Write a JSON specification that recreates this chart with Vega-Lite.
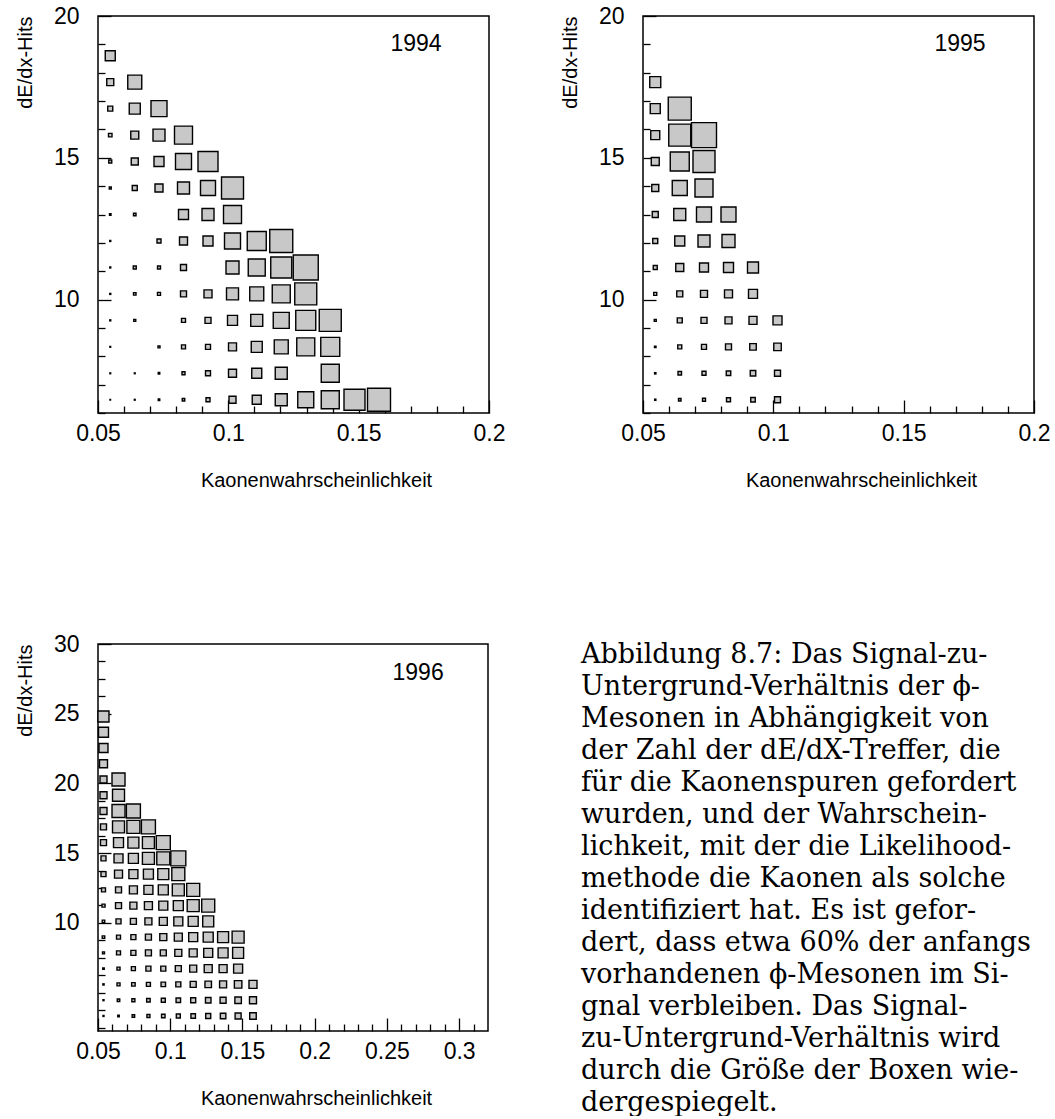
{
  "$schema": "https://vega.github.io/schema/vega-lite/v6.json",
  "background": "white",
  "padding": {"left": 14, "top": 4, "right": 0, "bottom": 0},
  "autosize": {"type": "pad"},
  "config": {
    "view": {"stroke": "black", "strokeWidth": 1.5},
    "axis": {"labelFont": "Liberation Sans", "titleFont": "Liberation Sans", "labelColor": "black", "titleColor": "black", "tickColor": "black", "tickWidth": 1.3, "grid": false, "domain": false, "labelFontSize": 23, "titleFontSize": 20, "titleFontWeight": "normal", "labelOverlap": false}
  },
  "datasets": {
    "d94": [
      {"x":0.0547,"y":18.6,"v":1.0},
      {"x":0.0547,"y":17.667,"v":0.7},{"x":0.0641,"y":17.667,"v":1.4},
      {"x":0.0547,"y":16.733,"v":0.5},{"x":0.0641,"y":16.733,"v":1.1},{"x":0.0734,"y":16.733,"v":1.6},
      {"x":0.0547,"y":15.8,"v":0.35},{"x":0.0641,"y":15.8,"v":0.8},{"x":0.0734,"y":15.8,"v":1.2},{"x":0.0828,"y":15.8,"v":1.8},
      {"x":0.0547,"y":14.867,"v":0.3},{"x":0.0641,"y":14.867,"v":0.7},{"x":0.0734,"y":14.867,"v":1.0},{"x":0.0828,"y":14.867,"v":1.6},{"x":0.0922,"y":14.867,"v":2.0},
      {"x":0.0547,"y":13.933,"v":0.2},{"x":0.0641,"y":13.933,"v":0.5},{"x":0.0734,"y":13.933,"v":0.8},{"x":0.0828,"y":13.933,"v":1.2},{"x":0.0922,"y":13.933,"v":1.5},{"x":0.1016,"y":13.933,"v":2.2},
      {"x":0.0547,"y":13.0,"v":0.15},{"x":0.0641,"y":13.0,"v":0.25},{"x":0.0828,"y":13.0,"v":1.0},{"x":0.0922,"y":13.0,"v":1.2},{"x":0.1016,"y":13.0,"v":1.8},
      {"x":0.0547,"y":12.067,"v":0.1},{"x":0.0734,"y":12.067,"v":0.4},{"x":0.0828,"y":12.067,"v":0.8},{"x":0.0922,"y":12.067,"v":1.0},{"x":0.1016,"y":12.067,"v":1.6},{"x":0.1109,"y":12.067,"v":1.9},{"x":0.1203,"y":12.067,"v":2.3},
      {"x":0.0547,"y":11.133,"v":0.1},{"x":0.0641,"y":11.133,"v":0.3},{"x":0.0734,"y":11.133,"v":0.3},{"x":0.0828,"y":11.133,"v":0.6},{"x":0.1016,"y":11.133,"v":1.3},{"x":0.1109,"y":11.133,"v":1.7},{"x":0.1203,"y":11.133,"v":2.1},{"x":0.1297,"y":11.133,"v":2.5},
      {"x":0.0547,"y":10.2,"v":0.1},{"x":0.0641,"y":10.2,"v":0.25},{"x":0.0734,"y":10.2,"v":0.3},{"x":0.0828,"y":10.2,"v":0.6},{"x":0.0922,"y":10.2,"v":0.8},{"x":0.1016,"y":10.2,"v":1.2},{"x":0.1109,"y":10.2,"v":1.4},{"x":0.1203,"y":10.2,"v":1.8},{"x":0.1297,"y":10.2,"v":2.2},
      {"x":0.0547,"y":9.267,"v":0.1},{"x":0.0641,"y":9.267,"v":0.2},{"x":0.0828,"y":9.267,"v":0.4},{"x":0.0922,"y":9.267,"v":0.6},{"x":0.1016,"y":9.267,"v":1.0},{"x":0.1109,"y":9.267,"v":1.2},{"x":0.1203,"y":9.267,"v":1.6},{"x":0.1297,"y":9.267,"v":2.0},{"x":0.1391,"y":9.267,"v":2.2},
      {"x":0.0547,"y":8.333,"v":0.08},{"x":0.0734,"y":8.333,"v":0.2},{"x":0.0828,"y":8.333,"v":0.4},{"x":0.0922,"y":8.333,"v":0.5},{"x":0.1016,"y":8.333,"v":0.8},{"x":0.1109,"y":8.333,"v":1.1},{"x":0.1203,"y":8.333,"v":1.4},{"x":0.1297,"y":8.333,"v":1.8},{"x":0.1391,"y":8.333,"v":1.9},
      {"x":0.0547,"y":7.4,"v":0.08},{"x":0.0641,"y":7.4,"v":0.08},{"x":0.0734,"y":7.4,"v":0.15},{"x":0.0828,"y":7.4,"v":0.3},{"x":0.0922,"y":7.4,"v":0.5},{"x":0.1016,"y":7.4,"v":0.8},{"x":0.1109,"y":7.4,"v":1.0},{"x":0.1203,"y":7.4,"v":1.2},{"x":0.1391,"y":7.4,"v":1.8},
      {"x":0.0547,"y":6.467,"v":0.06},{"x":0.0641,"y":6.467,"v":0.08},{"x":0.0734,"y":6.467,"v":0.15},{"x":0.0828,"y":6.467,"v":0.25},{"x":0.0922,"y":6.467,"v":0.4},{"x":0.1016,"y":6.467,"v":0.7},{"x":0.1109,"y":6.467,"v":0.9},{"x":0.1203,"y":6.467,"v":1.2},{"x":0.1297,"y":6.467,"v":1.6},{"x":0.1391,"y":6.467,"v":1.8},{"x":0.1484,"y":6.467,"v":2.1},{"x":0.1578,"y":6.467,"v":2.3}
    ],
    "d95": [
      {"x":0.0547,"y":17.667,"v":1.1},
      {"x":0.0547,"y":16.733,"v":1.0},{"x":0.0641,"y":16.733,"v":2.3},
      {"x":0.0547,"y":15.8,"v":0.9},{"x":0.0641,"y":15.8,"v":2.2},{"x":0.0734,"y":15.8,"v":2.5},
      {"x":0.0547,"y":14.867,"v":0.8},{"x":0.0641,"y":14.867,"v":1.9},{"x":0.0734,"y":14.867,"v":2.2},
      {"x":0.0547,"y":13.933,"v":0.7},{"x":0.0641,"y":13.933,"v":1.5},{"x":0.0734,"y":13.933,"v":1.8},
      {"x":0.0547,"y":13.0,"v":0.6},{"x":0.0641,"y":13.0,"v":1.2},{"x":0.0734,"y":13.0,"v":1.5},{"x":0.0828,"y":13.0,"v":1.5},
      {"x":0.0547,"y":12.067,"v":0.5},{"x":0.0641,"y":12.067,"v":1.0},{"x":0.0734,"y":12.067,"v":1.2},{"x":0.0828,"y":12.067,"v":1.3},
      {"x":0.0547,"y":11.133,"v":0.4},{"x":0.0641,"y":11.133,"v":0.8},{"x":0.0734,"y":11.133,"v":0.9},{"x":0.0828,"y":11.133,"v":1.0},{"x":0.0922,"y":11.133,"v":1.1},
      {"x":0.0547,"y":10.2,"v":0.3},{"x":0.0641,"y":10.2,"v":0.6},{"x":0.0734,"y":10.2,"v":0.7},{"x":0.0828,"y":10.2,"v":0.8},{"x":0.0922,"y":10.2,"v":0.9},
      {"x":0.0547,"y":9.267,"v":0.2},{"x":0.0641,"y":9.267,"v":0.5},{"x":0.0734,"y":9.267,"v":0.6},{"x":0.0828,"y":9.267,"v":0.7},{"x":0.0922,"y":9.267,"v":0.8},{"x":0.1016,"y":9.267,"v":0.9},
      {"x":0.0547,"y":8.333,"v":0.15},{"x":0.0641,"y":8.333,"v":0.4},{"x":0.0734,"y":8.333,"v":0.5},{"x":0.0828,"y":8.333,"v":0.6},{"x":0.0922,"y":8.333,"v":0.65},{"x":0.1016,"y":8.333,"v":0.75},
      {"x":0.0547,"y":7.4,"v":0.13},{"x":0.0641,"y":7.4,"v":0.35},{"x":0.0734,"y":7.4,"v":0.4},{"x":0.0828,"y":7.4,"v":0.45},{"x":0.0922,"y":7.4,"v":0.55},{"x":0.1016,"y":7.4,"v":0.6},
      {"x":0.0547,"y":6.467,"v":0.12},{"x":0.0641,"y":6.467,"v":0.25},{"x":0.0734,"y":6.467,"v":0.3},{"x":0.0828,"y":6.467,"v":0.4},{"x":0.0922,"y":6.467,"v":0.45},{"x":0.1016,"y":6.467,"v":0.6}
    ],
    "d96": [
      {"x":0.0538,"y":24.8,"v":1.1},
      {"x":0.0538,"y":23.67,"v":1.0},
      {"x":0.0538,"y":22.54,"v":0.9},
      {"x":0.0538,"y":21.41,"v":0.8},
      {"x":0.0538,"y":20.28,"v":0.7},{"x":0.0642,"y":20.28,"v":1.3},
      {"x":0.0538,"y":19.15,"v":0.7},{"x":0.0642,"y":19.15,"v":1.2},
      {"x":0.0538,"y":18.02,"v":0.7},{"x":0.0642,"y":18.02,"v":1.3},{"x":0.0745,"y":18.02,"v":1.4},
      {"x":0.0538,"y":16.89,"v":0.6},{"x":0.0642,"y":16.89,"v":1.2},{"x":0.0745,"y":16.89,"v":1.3},{"x":0.0849,"y":16.89,"v":1.4},
      {"x":0.0538,"y":15.76,"v":0.6},{"x":0.0642,"y":15.76,"v":1.0},{"x":0.0745,"y":15.76,"v":1.1},{"x":0.0849,"y":15.76,"v":1.2},{"x":0.0952,"y":15.76,"v":1.4},
      {"x":0.0538,"y":14.63,"v":0.5},{"x":0.0642,"y":14.63,"v":0.9},{"x":0.0745,"y":14.63,"v":1.0},{"x":0.0849,"y":14.63,"v":1.2},{"x":0.0952,"y":14.63,"v":1.3},{"x":0.1056,"y":14.63,"v":1.5},
      {"x":0.0538,"y":13.5,"v":0.5},{"x":0.0642,"y":13.5,"v":0.8},{"x":0.0745,"y":13.5,"v":0.9},{"x":0.0849,"y":13.5,"v":1.0},{"x":0.0952,"y":13.5,"v":1.1},{"x":0.1056,"y":13.5,"v":1.3},
      {"x":0.0538,"y":12.37,"v":0.4},{"x":0.0642,"y":12.37,"v":0.6},{"x":0.0745,"y":12.37,"v":0.8},{"x":0.0849,"y":12.37,"v":0.9},{"x":0.0952,"y":12.37,"v":1.0},{"x":0.1056,"y":12.37,"v":1.2},{"x":0.1159,"y":12.37,"v":1.3},
      {"x":0.0538,"y":11.24,"v":0.3},{"x":0.0642,"y":11.24,"v":0.6},{"x":0.0745,"y":11.24,"v":0.7},{"x":0.0849,"y":11.24,"v":0.8},{"x":0.0952,"y":11.24,"v":0.9},{"x":0.1056,"y":11.24,"v":1.0},{"x":0.1159,"y":11.24,"v":1.2},{"x":0.1263,"y":11.24,"v":1.3},
      {"x":0.0538,"y":10.11,"v":0.25},{"x":0.0642,"y":10.11,"v":0.5},{"x":0.0745,"y":10.11,"v":0.6},{"x":0.0849,"y":10.11,"v":0.7},{"x":0.0952,"y":10.11,"v":0.8},{"x":0.1056,"y":10.11,"v":0.9},{"x":0.1159,"y":10.11,"v":1.0},{"x":0.1263,"y":10.11,"v":1.1},
      {"x":0.0538,"y":8.98,"v":0.25},{"x":0.0642,"y":8.98,"v":0.4},{"x":0.0745,"y":8.98,"v":0.5},{"x":0.0849,"y":8.98,"v":0.6},{"x":0.0952,"y":8.98,"v":0.7},{"x":0.1056,"y":8.98,"v":0.8},{"x":0.1159,"y":8.98,"v":0.9},{"x":0.1263,"y":8.98,"v":1.0},{"x":0.1366,"y":8.98,"v":1.1},{"x":0.147,"y":8.98,"v":1.2},
      {"x":0.0538,"y":7.85,"v":0.2},{"x":0.0642,"y":7.85,"v":0.4},{"x":0.0745,"y":7.85,"v":0.5},{"x":0.0849,"y":7.85,"v":0.6},{"x":0.0952,"y":7.85,"v":0.6},{"x":0.1056,"y":7.85,"v":0.7},{"x":0.1159,"y":7.85,"v":0.8},{"x":0.1263,"y":7.85,"v":0.9},{"x":0.1366,"y":7.85,"v":1.0},{"x":0.147,"y":7.85,"v":1.1},
      {"x":0.0538,"y":6.72,"v":0.15},{"x":0.0642,"y":6.72,"v":0.3},{"x":0.0745,"y":6.72,"v":0.4},{"x":0.0849,"y":6.72,"v":0.5},{"x":0.0952,"y":6.72,"v":0.5},{"x":0.1056,"y":6.72,"v":0.6},{"x":0.1159,"y":6.72,"v":0.7},{"x":0.1263,"y":6.72,"v":0.8},{"x":0.1366,"y":6.72,"v":0.8},{"x":0.147,"y":6.72,"v":0.9},
      {"x":0.0538,"y":5.59,"v":0.12},{"x":0.0642,"y":5.59,"v":0.3},{"x":0.0745,"y":5.59,"v":0.35},{"x":0.0849,"y":5.59,"v":0.4},{"x":0.0952,"y":5.59,"v":0.45},{"x":0.1056,"y":5.59,"v":0.5},{"x":0.1159,"y":5.59,"v":0.6},{"x":0.1263,"y":5.59,"v":0.65},{"x":0.1366,"y":5.59,"v":0.7},{"x":0.147,"y":5.59,"v":0.75},{"x":0.1573,"y":5.59,"v":0.8},
      {"x":0.0538,"y":4.46,"v":0.1},{"x":0.0642,"y":4.46,"v":0.25},{"x":0.0745,"y":4.46,"v":0.3},{"x":0.0849,"y":4.46,"v":0.35},{"x":0.0952,"y":4.46,"v":0.4},{"x":0.1056,"y":4.46,"v":0.45},{"x":0.1159,"y":4.46,"v":0.5},{"x":0.1263,"y":4.46,"v":0.55},{"x":0.1366,"y":4.46,"v":0.6},{"x":0.147,"y":4.46,"v":0.65},{"x":0.1573,"y":4.46,"v":0.7},
      {"x":0.0538,"y":3.33,"v":0.1},{"x":0.0642,"y":3.33,"v":0.15},{"x":0.0745,"y":3.33,"v":0.25},{"x":0.0849,"y":3.33,"v":0.3},{"x":0.0952,"y":3.33,"v":0.35},{"x":0.1056,"y":3.33,"v":0.4},{"x":0.1159,"y":3.33,"v":0.45},{"x":0.1263,"y":3.33,"v":0.5},{"x":0.1366,"y":3.33,"v":0.55},{"x":0.147,"y":3.33,"v":0.6},{"x":0.1573,"y":3.33,"v":0.65}
    ],
    "cap": [
      {"line":1,"text":"Abbildung 8.7: Das Signal-zu-"},
      {"line":2,"text":"Untergrund-Verhältnis der ϕ-"},
      {"line":3,"text":"Mesonen in Abhängigkeit von"},
      {"line":4,"text":"der Zahl der dE/dX-Treffer, die"},
      {"line":5,"text":"für die Kaonenspuren gefordert"},
      {"line":6,"text":"wurden, und der Wahrschein-"},
      {"line":7,"text":"lichkeit, mit der die Likelihood-"},
      {"line":8,"text":"methode die Kaonen als solche"},
      {"line":9,"text":"identifiziert hat. Es ist gefor-"},
      {"line":10,"text":"dert, dass etwa 60% der anfangs"},
      {"line":11,"text":"vorhandenen ϕ-Mesonen im Si-"},
      {"line":12,"text":"gnal verbleiben. Das Signal-"},
      {"line":13,"text":"zu-Untergrund-Verhältnis wird"},
      {"line":14,"text":"durch die Größe der Boxen wie-"},
      {"line":15,"text":"dergespiegelt."}
    ]
  },
  "columns": 2,
  "spacing": {"row": 231, "column": 154},
  "bounds": "flush",
  "concat": [
    {
      "width": 391, "height": 397,
      "resolve": {"axis": {"x": "independent", "y": "independent"}},
      "layer": [
        {
          "data": {"name": "d94"},
          "mark": {"type": "square", "filled": true, "fill": "#c8c8c8", "stroke": "black", "strokeWidth": 1.4, "opacity": 1},
          "encoding": {
            "x": {"field": "x", "type": "quantitative", "scale": {"domain": [0.05, 0.2], "nice": false, "zero": false},
              "axis": {"orient": "bottom", "values": [0.05, 0.1, 0.15, 0.2], "format": "~g", "tickSize": -13,
                "labelPadding": 22, "labelFlush": false, "labelOverlap": false,
                "title": "Kaonenwahrscheinlichkeit", "titleX": 218, "titleY": 73, "titleBaseline": "alphabetic", "titleAlign": "center"}},
            "y": {"field": "y", "type": "quantitative", "scale": {"domain": [6, 20], "nice": false, "zero": false},
              "axis": {"orient": "left", "values": [10, 15, 20], "format": "~g", "tickSize": -13,
                "labelPadding": 32, "labelOverlap": false,
                "title": "dE/dx-Hits", "titleX": -67, "titleY": 0, "titleAngle": 270, "titleAlign": "right", "titleBaseline": "alphabetic"}},
            "size": {"field": "v", "type": "quantitative", "scale": {"type": "pow", "exponent": 2, "domain": [0, 2.5], "range": [0, 625]}, "legend": null}
          }
        },
        {
          "data": {"name": "d94"},
          "mark": {"type": "point", "opacity": 0, "size": 1},
          "encoding": {
            "x": {"field": "x", "type": "quantitative", "scale": {"domain": [0.05, 0.2], "nice": false, "zero": false},
              "axis": {"orient": "bottom", "values": [0.06,0.07,0.08,0.09,0.11,0.12,0.13,0.14,0.16,0.17,0.18,0.19], "tickSize": -7, "labels": false, "title": null}},
            "y": {"field": "y", "type": "quantitative", "scale": {"domain": [6, 20], "nice": false, "zero": false},
              "axis": {"orient": "left", "values": [6,7,8,9,11,12,13,14,16,17,18,19], "tickSize": -7, "labels": false, "title": null}}
          }
        },
        {
          "data": {"values": [{}]},
          "mark": {"type": "text", "font": "Liberation Sans", "fontSize": 23, "align": "center", "baseline": "middle", "color": "black"},
          "encoding": {"x": {"datum": 0.172, "type": "quantitative", "axis": null}, "y": {"datum": 19.0, "type": "quantitative", "axis": null}, "text": {"value": "1994"}}
        }
      ]
    },
    {
      "width": 391, "height": 397,
      "resolve": {"axis": {"x": "independent", "y": "independent"}},
      "layer": [
        {
          "data": {"name": "d95"},
          "mark": {"type": "square", "filled": true, "fill": "#c8c8c8", "stroke": "black", "strokeWidth": 1.4, "opacity": 1},
          "encoding": {
            "x": {"field": "x", "type": "quantitative", "scale": {"domain": [0.05, 0.2], "nice": false, "zero": false},
              "axis": {"orient": "bottom", "values": [0.05, 0.1, 0.15, 0.2], "format": "~g", "tickSize": -13,
                "labelPadding": 22, "labelFlush": false, "labelOverlap": false,
                "title": "Kaonenwahrscheinlichkeit", "titleX": 218, "titleY": 73, "titleBaseline": "alphabetic", "titleAlign": "center"}},
            "y": {"field": "y", "type": "quantitative", "scale": {"domain": [6, 20], "nice": false, "zero": false},
              "axis": {"orient": "left", "values": [10, 15, 20], "format": "~g", "tickSize": -13,
                "labelPadding": 32, "labelOverlap": false,
                "title": "dE/dx-Hits", "titleX": -67, "titleY": 0, "titleAngle": 270, "titleAlign": "right", "titleBaseline": "alphabetic"}},
            "size": {"field": "v", "type": "quantitative", "scale": {"type": "pow", "exponent": 2, "domain": [0, 2.5], "range": [0, 625]}, "legend": null}
          }
        },
        {
          "data": {"name": "d95"},
          "mark": {"type": "point", "opacity": 0, "size": 1},
          "encoding": {
            "x": {"field": "x", "type": "quantitative", "scale": {"domain": [0.05, 0.2], "nice": false, "zero": false},
              "axis": {"orient": "bottom", "values": [0.06,0.07,0.08,0.09,0.11,0.12,0.13,0.14,0.16,0.17,0.18,0.19], "tickSize": -7, "labels": false, "title": null}},
            "y": {"field": "y", "type": "quantitative", "scale": {"domain": [6, 20], "nice": false, "zero": false},
              "axis": {"orient": "left", "values": [6,7,8,9,11,12,13,14,16,17,18,19], "tickSize": -7, "labels": false, "title": null}}
          }
        },
        {
          "data": {"values": [{}]},
          "mark": {"type": "text", "font": "Liberation Sans", "fontSize": 23, "align": "center", "baseline": "middle", "color": "black"},
          "encoding": {"x": {"datum": 0.1716, "type": "quantitative", "axis": null}, "y": {"datum": 19.0, "type": "quantitative", "axis": null}, "text": {"value": "1995"}}
        }
      ]
    },
    {
      "width": 390, "height": 387,
      "resolve": {"axis": {"x": "independent", "y": "independent"}},
      "layer": [
        {
          "data": {"name": "d96"},
          "mark": {"type": "square", "filled": true, "fill": "#c8c8c8", "stroke": "black", "strokeWidth": 1.4, "opacity": 1},
          "encoding": {
            "x": {"field": "x", "type": "quantitative", "scale": {"domain": [0.05, 0.32], "nice": false, "zero": false},
              "axis": {"orient": "bottom", "values": [0.05, 0.1, 0.15, 0.2, 0.25, 0.3], "format": "~g", "tickSize": -13,
                "labelPadding": 22, "labelFlush": false, "labelOverlap": false,
                "title": "Kaonenwahrscheinlichkeit", "titleX": 218, "titleY": 73, "titleBaseline": "alphabetic", "titleAlign": "center"}},
            "y": {"field": "y", "type": "quantitative", "scale": {"domain": [2.25, 30], "nice": false, "zero": false},
              "axis": {"orient": "left", "values": [10, 15, 20, 25, 30], "format": "~g", "tickSize": -13,
                "labelPadding": 32, "labelOverlap": false,
                "title": "dE/dx-Hits", "titleX": -67, "titleY": 0, "titleAngle": 270, "titleAlign": "right", "titleBaseline": "alphabetic"}},
            "size": {"field": "v", "type": "quantitative", "scale": {"type": "pow", "exponent": 2, "domain": [0, 2.5], "range": [0, 625]}, "legend": null}
          }
        },
        {
          "data": {"name": "d96"},
          "mark": {"type": "point", "opacity": 0, "size": 1},
          "encoding": {
            "x": {"field": "x", "type": "quantitative", "scale": {"domain": [0.05, 0.32], "nice": false, "zero": false},
              "axis": {"orient": "bottom", "values": [0.06,0.07,0.08,0.09,0.11,0.12,0.13,0.14,0.16,0.17,0.18,0.19,0.21,0.22,0.23,0.24,0.26,0.27,0.28,0.29,0.31], "tickSize": -7, "labels": false, "title": null}},
            "y": {"field": "y", "type": "quantitative", "scale": {"domain": [2.25, 30], "nice": false, "zero": false},
              "axis": {"orient": "left", "values": [2.5,3.75,5,6.25,7.5,8.75,11.25,12.5,13.75,16.25,17.5,18.75,21.25,22.5,23.75,26.25,27.5,28.75], "tickSize": -7, "labels": false, "title": null}}
          }
        },
        {
          "data": {"values": [{}]},
          "mark": {"type": "text", "font": "Liberation Sans", "fontSize": 23, "align": "center", "baseline": "middle", "color": "black"},
          "encoding": {"x": {"datum": 0.2716, "type": "quantitative", "axis": null}, "y": {"datum": 27.92, "type": "quantitative", "axis": null}, "text": {"value": "1996"}}
        }
      ]
    },
    {
      "width": 391, "height": 465,
      "view": {"stroke": null},
      "data": {"name": "cap"},
      "mark": {"type": "text", "font": "DejaVu Serif", "fontSize": 27, "align": "left", "baseline": "alphabetic", "color": "black", "dx": -62},
      "encoding": {
        "x": {"datum": 0, "type": "quantitative", "scale": {"domain": [0, 1]}, "axis": null},
        "y": {"field": "line", "type": "quantitative", "scale": {"domain": [0.41, 14.941], "reverse": true, "nice": false, "zero": false}, "axis": null},
        "text": {"field": "text"}
      }
    }
  ]
}
